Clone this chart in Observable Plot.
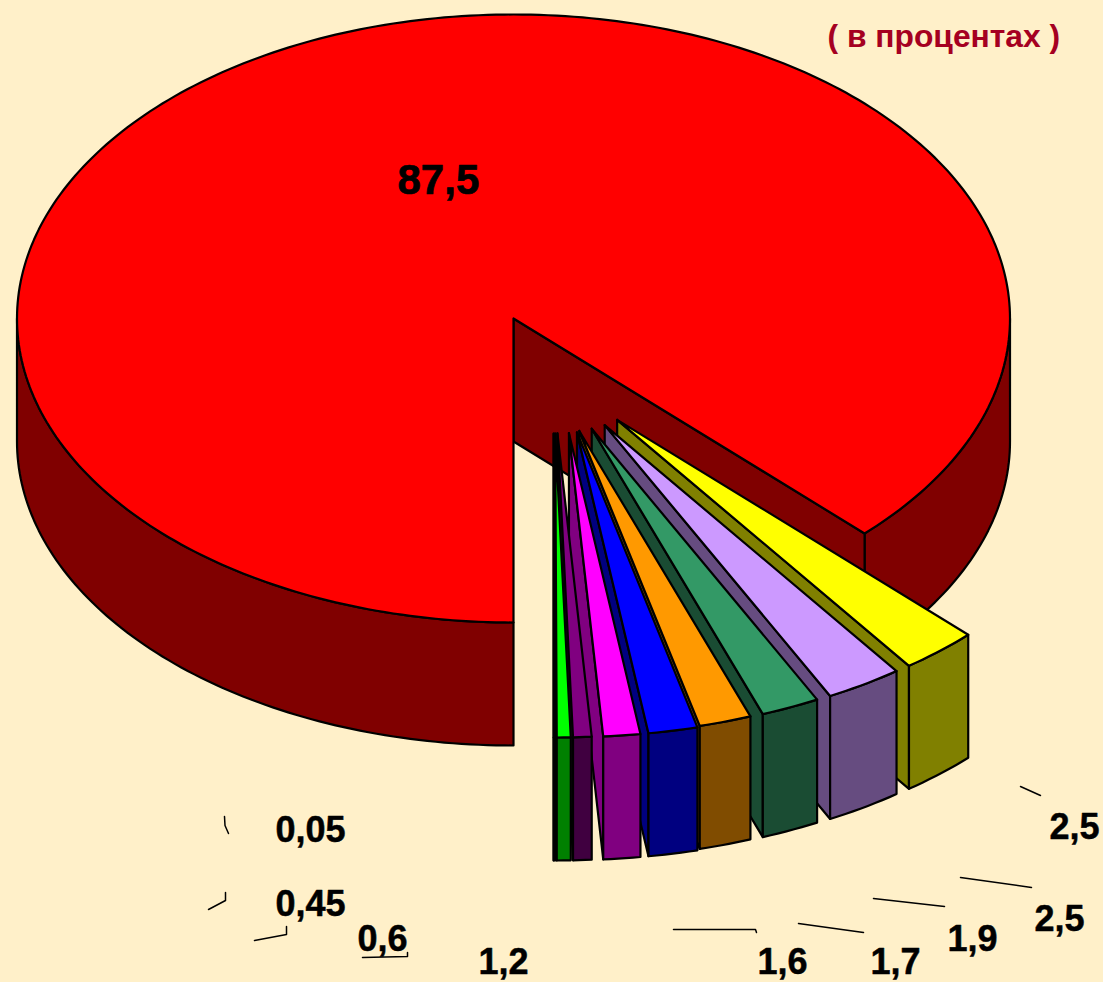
<!DOCTYPE html>
<html><head><meta charset="utf-8">
<script src="https://cdn.jsdelivr.net/npm/d3@7"></script>
<script src="https://cdn.jsdelivr.net/npm/@observablehq/plot@0.6"></script>
<style>html,body{margin:0;padding:0;background:#fff0c9;overflow:hidden}svg{display:block}</style>
</head><body><div id="chart"></div>
<script>
// Data: shares in percent, in drawing order (clockwise from the big slice's cut edge)
const mainValue = 87.5;
const sliceValues = [2.5, 2.5, 1.9, 1.7, 1.6, 1.2, 0.6, 0.45, 0.05];
const sliceLabels = ["2,5", "2,5", "1,9", "1,7", "1,6", "1,2", "0,6", "0,45", "0,05"];
const sliceTop = ["#ffff00", "#cc99ff", "#339966", "#ff9900", "#0000ff", "#ff00ff", "#800080", "#00ff00", "#00ff00"];
const sliceWall = ["#808000", "#664c80", "#1a4c33", "#804c00", "#000080", "#800080", "#400040", "#008000", "#008000"];

// Layout
const W = 1103, H = 982;
const cx = 513, cy = 318, rx = 496.5, ry = 304, depth = 123;
const pivot = [553, 376], explode = [98, 57];
const nudge = [0, 0, -1, -3, 4.5, 5, -1, 0, 0];
const labelX = [1049, 1034, 947, 870, 757, 478, 357, 275, 275];
const labelBase = [840, 932, 952, 975, 975, 975, 952, 917, 843];
const leaders = [
  [[1020, 786], [1040, 795]],
  [[960, 877], [1031, 887]],
  [[873, 898], [944, 906]],
  [[798, 923], [863, 932]],
  [[673, 929], [755, 929], [756, 932]],
  [[362, 957], [407, 956], [407, 952]],
  [[254, 940], [286, 934], [286, 926]],
  [[208, 909], [225, 900], [225, 892]],
  [[228, 833], [224.5, 825], [224, 816]]
];

const rad = d => d * Math.PI / 180;
const pt = (ox, oy, t, dz = 0) => [ox + rx * Math.cos(rad(t)), oy + ry * Math.sin(rad(t)) + dz];
const arc = (ox, oy, t0, t1, dz = 0) => {
  const n = Math.max(2, Math.ceil(Math.abs(t1 - t0)) + 1);
  return d3.range(n).map(i => pt(ox, oy, t0 + (t1 - t0) * i / (n - 1), dz));
};

const polys = [];
const add = (points, fill) => {
  const id = polys.length ? polys[polys.length - 1].id + 1 : 0;
  [...points, points[0]].forEach(([x, y]) => polys.push({id, x, y, fill}));
};

// Angles run clockwise on screen: 0° = right, 90° = bottom.
const gap = 360 * (100 - mainValue) / 100;
const start = 90 - gap;   // 45°

// Big slice: walls first, then top
const darkRed = "#800000", red = "#ff0000";
add([...arc(cx, cy, 90, 180), ...arc(cx, cy, 180, 90, depth)], darkRed);
add([...arc(cx, cy, 0, start), ...arc(cx, cy, start, 0, depth)], darkRed);
add([[cx, cy], pt(cx, cy, start), pt(cx, cy, start, depth), [cx, cy + depth]], darkRed);
add([[cx, cy], ...arc(cx, cy, 90, 360 + start)], red);

// Exploded small slices
let t = start;
sliceValues.forEach((v, i) => {
  const t0 = t, t1 = t + v * 3.6, mid = (t0 + t1) / 2;
  t = t1;
  const ax = pivot[0] + explode[0] * Math.cos(rad(mid)) + nudge[i];
  const ay = pivot[1] + explode[1] * Math.sin(rad(mid));
  add([[ax, ay], pt(ax, ay, t1), pt(ax, ay, t1, depth), [ax, ay + depth]], sliceWall[i]);
  add([...arc(ax, ay, t0, t1), ...arc(ax, ay, t1, t0, depth)], sliceWall[i]);
  add([[ax, ay], ...arc(ax, ay, t0, t1)], sliceTop[i]);
});

const leaderRows = leaders.flatMap((l, id) => l.map(([x, y]) => ({id, x, y})));
const labelRows = sliceLabels.map((text, i) => ({text, x: labelX[i], y: labelBase[i]}));

const chart = Plot.plot({
  width: W, height: H, margin: 0,
  x: {domain: [0, W], range: [0, W], axis: null},
  y: {domain: [0, H], range: [0, H], axis: null},
  color: {type: "identity"},
  style: {background: "#fff0c9"},
  marks: [
    Plot.line(polys, {x: "x", y: "y", z: "id", fill: "fill", stroke: "#000", strokeWidth: 2.2, strokeLinejoin: "round", curve: "linear"}),
    Plot.line(leaderRows, {x: "x", y: "y", z: "id", stroke: "#000", strokeWidth: 1.5, curve: "linear"}),
    Plot.text(labelRows, {x: "x", y: "y", text: "text", textAnchor: "start", lineAnchor: "middle", dy: -13.5, fontFamily: "Liberation Sans", fontWeight: "bold", fontSize: 36, fill: "#000", stroke: "#000", strokeWidth: 0.5}),
    Plot.text([mainValue], {x: () => 397, y: () => 193, text: () => "87,5", textAnchor: "start", lineAnchor: "middle", dy: -13, fontFamily: "Liberation Sans", fontWeight: "bold", fontSize: 42, fill: "#000", stroke: "#000", strokeWidth: 0.7}),
    Plot.text(["( в процентах )"], {x: () => 827, y: () => 36, text: d => d, textAnchor: "start", lineAnchor: "middle", fontFamily: "Liberation Sans", fontWeight: "bold", fontSize: 31.8, fill: "#a50021"})
  ]
});
document.getElementById("chart").append(chart);
</script></body></html>
